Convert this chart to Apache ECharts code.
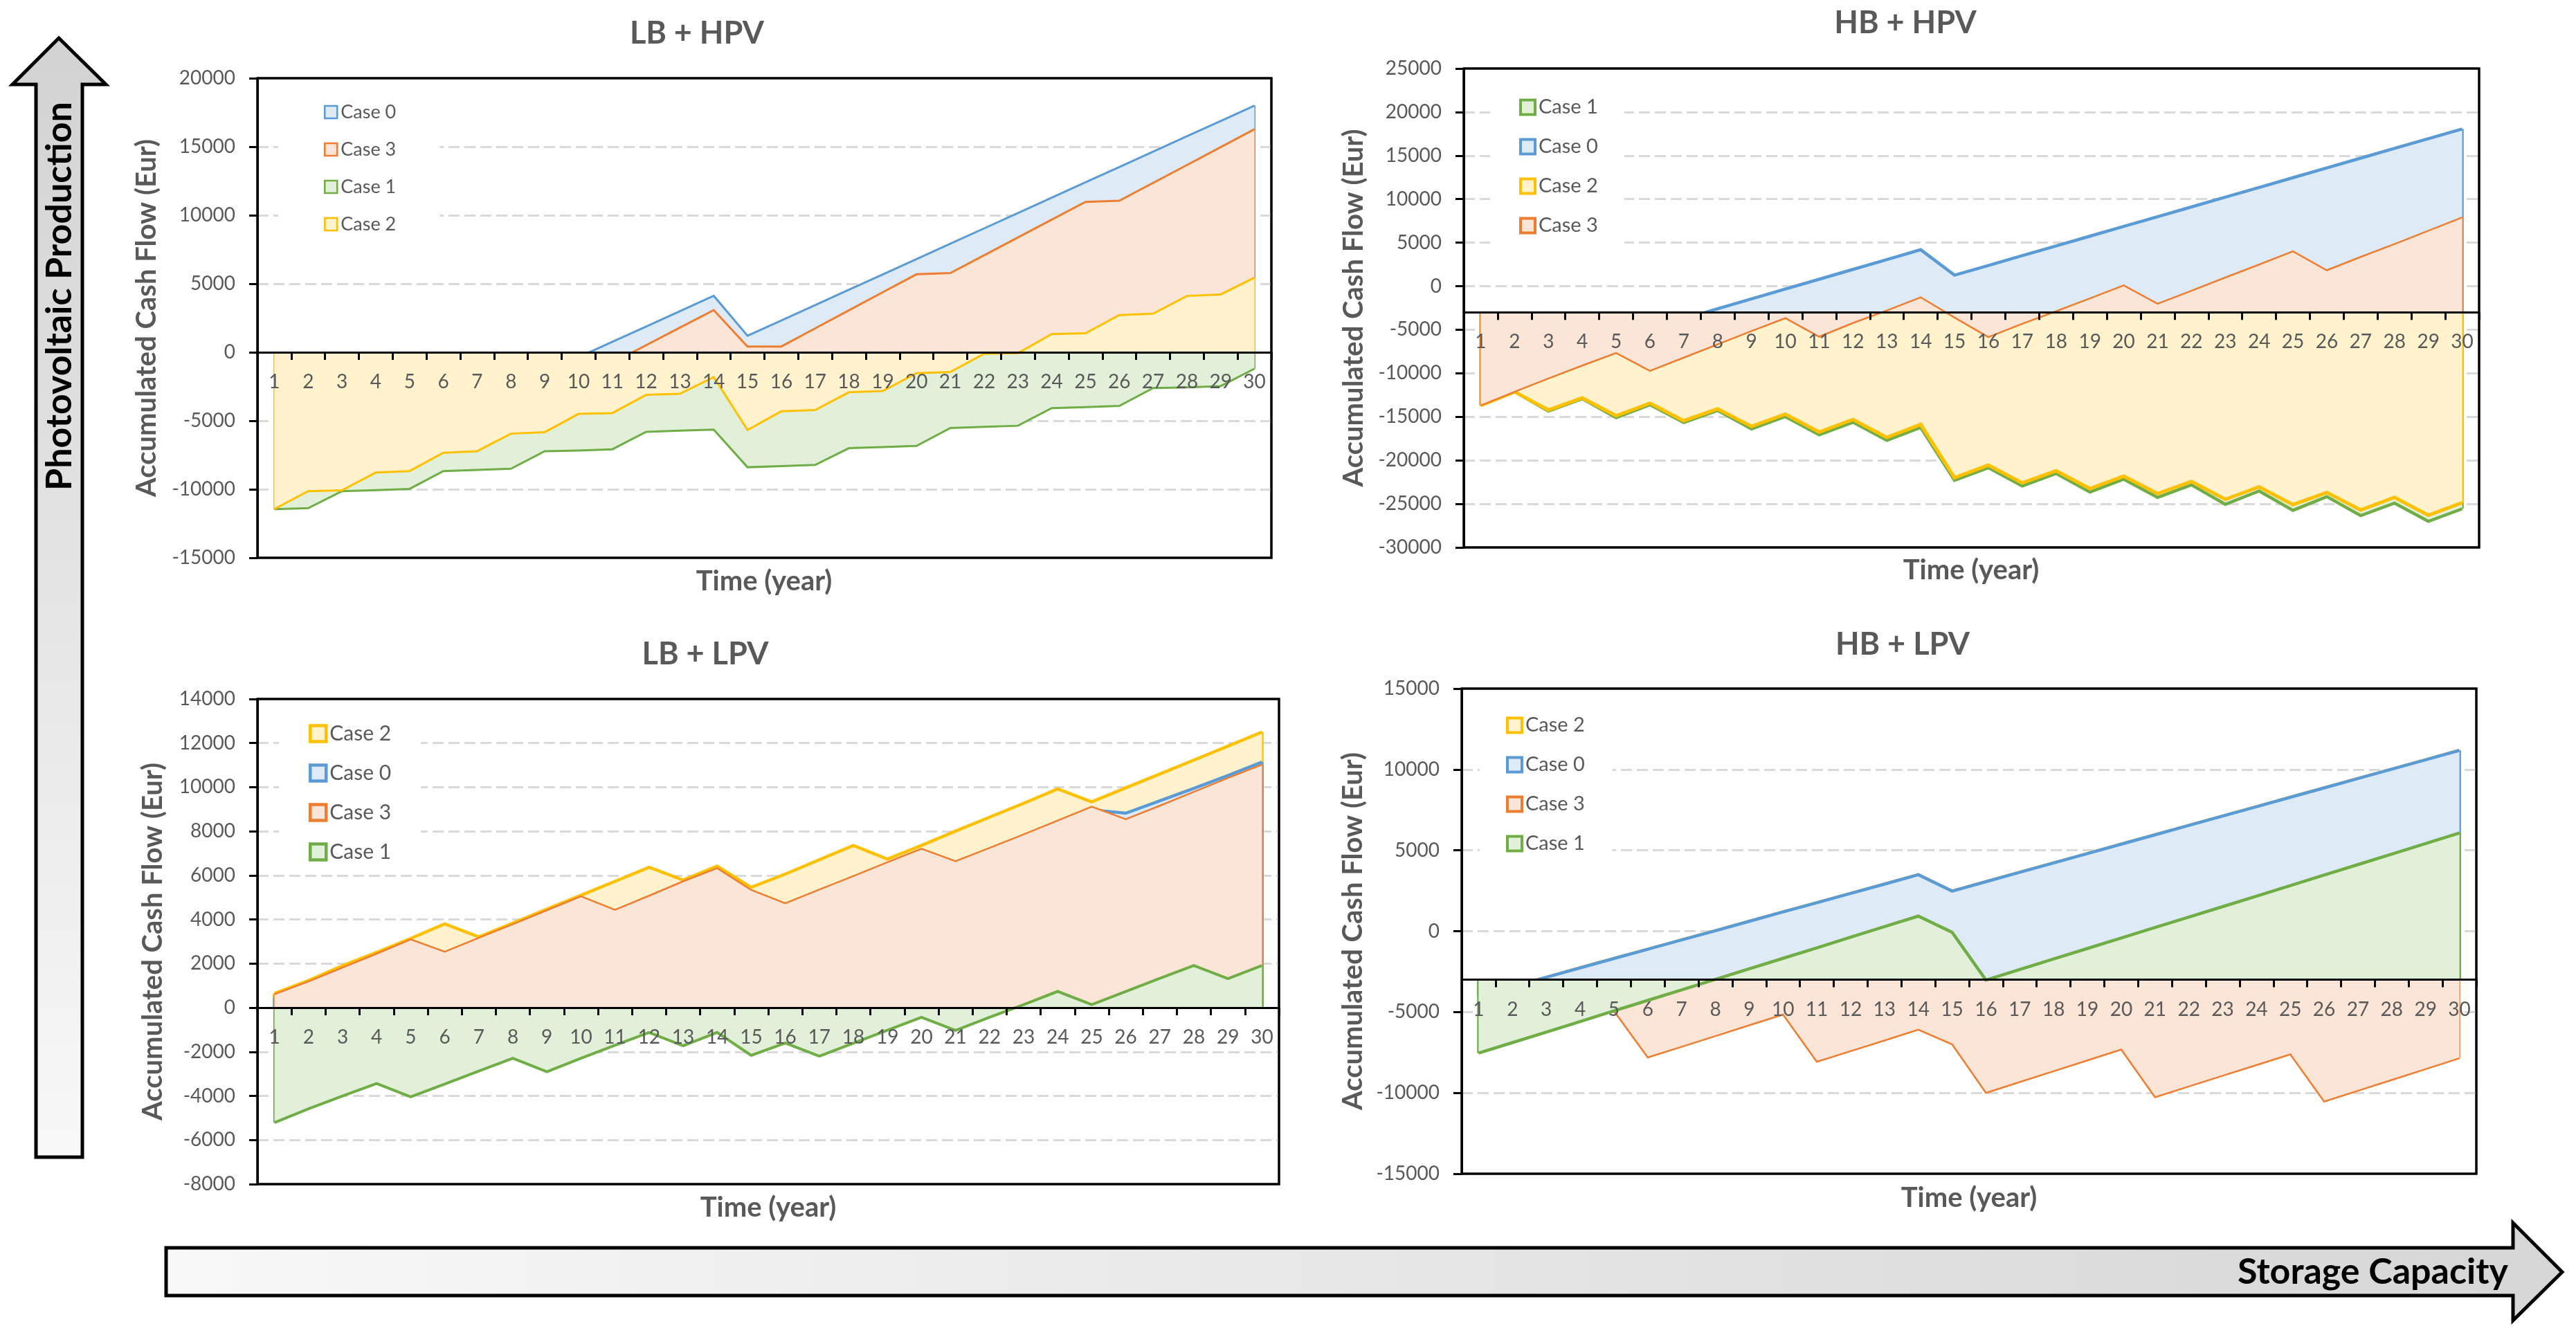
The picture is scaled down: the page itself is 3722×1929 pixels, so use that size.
<!DOCTYPE html>
<html>
<head>
<meta charset="utf-8">
<script src="https://cdn.jsdelivr.net/npm/echarts@6/dist/echarts.min.js"></script>
<style>
html,body{margin:0;padding:0;background:#fff;}
#c{width:3722px;height:1929px;}
</style>
</head>
<body>
<div id="c"></div>
<script>
// ---------- categories ----------
const years = ['1','2','3','4','5','6','7','8','9','10','11','12','13','14','15','16','17','18','19','20','21','22','23','24','25','26','27','28','29','30'];

// ---------- LB + HPV ----------
const lbHpvCase0 = [-10440,-9320,-8200,-7080,-5960,-4840,-3720,-2600,-1480,-360,760,1880,3000,4120,1200,2320,3440,4560,5680,6800,7920,9040,10160,11280,12400,13520,14640,15760,16880,18000];
const lbHpvCase3 = [-11180,-9880,-8580,-7280,-5980,-5980,-4680,-3380,-2080,-780,-780,520,1800,3080,420,420,1740,3060,4380,5690,5780,7080,8380,9680,10970,11060,12360,13660,14970,16280];
const lbHpvCase1 = [-11450,-11380,-10140,-10060,-9970,-8670,-8580,-8500,-7220,-7170,-7080,-5810,-5720,-5640,-8390,-8310,-8220,-7000,-6920,-6830,-5530,-5440,-5360,-4080,-4000,-3920,-2610,-2560,-2470,-1200];
const lbHpvCase2 = [-11440,-10140,-10080,-8780,-8670,-7330,-7220,-5940,-5830,-4500,-4440,-3110,-3030,-1810,-5670,-4310,-4220,-2920,-2830,-1530,-1440,-110,-60,1330,1390,2720,2810,4110,4220,5450];
const lbHpvTicks = [-15000, 20000, 5000];   // min, max, step

// ---------- HB + HPV ----------
const hbHpvCase1 = [-13700,-12130,-14350,-12920,-15100,-13610,-15660,-14270,-16400,-14970,-17060,-15620,-17710,-16230,-22300,-20850,-22950,-21500,-23650,-22170,-24260,-22820,-25050,-23520,-25740,-24170,-26350,-24910,-27000,-25570];
const hbHpvCase0 = [-10500,-9370,-8240,-7110,-5980,-4850,-3720,-2590,-1460,-330,800,1930,3060,4190,1265,2385,3505,4625,5745,6865,7985,9105,10225,11345,12465,13585,14705,15825,16945,18060];
const hbHpvCase2 = [-13700,-12130,-14220,-12830,-14880,-13440,-15450,-14090,-16100,-14700,-16750,-15310,-17370,-15880,-21990,-20550,-22600,-21200,-23250,-21820,-23820,-22430,-24480,-23040,-25090,-23690,-25700,-24260,-26310,-24870];
const hbHpvCase3 = [-13700,-12130,-10600,-9120,-7680,-9730,-8200,-6680,-5150,-3670,-5800,-4230,-2790,-1270,-3600,-5850,-4320,-2880,-1400,90,-2010,-520,1000,2490,4010,1830,3360,4840,6370,7900];
const hbHpvTicks = [-30000, 25000, 5000];

// ---------- LB + LPV ----------
const lbLpvCase2 = [650,1230,1910,2510,3140,3800,3210,3840,4470,5100,5730,6370,5790,6420,5460,6060,6710,7360,6740,7360,8010,8640,9270,9920,9340,9970,10600,11230,11860,12500];
const lbLpvCase0 = [460,1040,1670,2300,2950,2390,3020,3640,4270,4900,4290,4930,5580,6180,5190,4590,5210,5820,6450,7060,6490,7100,7710,8340,8970,8820,9380,9950,10530,11140];
const lbLpvCase3 = [610,1190,1820,2450,3100,2540,3170,3790,4420,5050,4440,5080,5730,6330,5340,4740,5360,5970,6600,7210,6640,7250,7860,8490,9120,8550,9160,9790,10420,11020];
const lbLpvCase1 = [-5210,-4580,-4000,-3440,-4040,-3460,-2870,-2290,-2900,-2290,-1700,-1120,-1730,-1120,-2160,-1600,-2200,-1610,-1020,-430,-1030,-430,140,740,140,740,1330,1910,1320,1910];
const lbLpvTicks = [-8000, 14000, 2000];

// ---------- HB + LPV ----------
const hbLpvCase2 = [-4000,-3420,-2850,-2270,-1690,-1120,-540,30,610,1190,1760,2340,2910,3490,2480,3060,3640,4220,4800,5380,5960,6540,7120,7700,8280,8860,9440,10020,10600,11180];
const hbLpvCase0 = [-4000,-3420,-2850,-2270,-1690,-1120,-540,30,610,1190,1760,2340,2910,3490,2480,3060,3640,4220,4800,5380,5960,6540,7120,7700,8280,8860,9440,10020,10600,11180];
const hbLpvCase3 = [-7540,-6890,-6240,-5590,-4930,-7810,-7150,-6490,-5820,-5160,-8080,-7420,-6760,-6090,-7000,-10000,-9330,-8660,-7990,-7320,-10270,-9600,-8940,-8280,-7620,-10540,-9870,-9200,-8530,-7860];
const hbLpvCase1 = [-7540,-6890,-6240,-5590,-4930,-4280,-3630,-2980,-2330,-1680,-1030,-370,280,930,-70,-3020,-2370,-1720,-1070,-420,230,870,1520,2170,2820,3470,4120,4770,5420,6070];
const hbLpvTicks = [-15000, 15000, 5000];

// ---------- styling ----------
const COLORS = {
  'Case 0': { line: '#5b9bd5', fill: '#deebf7' },
  'Case 1': { line: '#70ad47', fill: '#e2f0d9' },
  'Case 2': { line: '#ffc000', fill: '#fff2cc' },
  'Case 3': { line: '#ed7d31', fill: '#fbe5d6' }
};
const TXT = '#595959';
const FONT = 'Lato';

const panels = [
  { title: 'LB + HPV', ticks: lbHpvTicks, base: 0,
    series: [['Case 0', lbHpvCase0, 3], ['Case 3', lbHpvCase3, 3], ['Case 1', lbHpvCase1, 3], ['Case 2', lbHpvCase2, 3]],
    grid: { left: 372, top: 113, width: 1465, height: 693 }, nameGap: 140,
    titlePos: [1007, 48], timePos: [1104, 840],
    legend: { left: 402, top: 120, padding: [27, 63, 15, 66], icon: 18, bw: 2.5, fs: 27, gap: 24 } },
  { title: 'HB + HPV', ticks: hbHpvTicks, base: -3000,
    series: [['Case 1', hbHpvCase1, 4.5], ['Case 0', hbHpvCase0, 4.5], ['Case 2', hbHpvCase2, 5], ['Case 3', hbHpvCase3, 2.5]],
    grid: { left: 2115, top: 99, width: 1467, height: 692 }, nameGap: 139,
    titlePos: [2753, 33], timePos: [2848, 824],
    legend: { left: 2153, top: 125, padding: [15, 38, 20, 42], icon: 21, bw: 4, fs: 29, gap: 27 } },
  { title: 'LB + LPV', ticks: lbLpvTicks, base: 0,
    series: [['Case 2', lbLpvCase2, 4.5], ['Case 0', lbLpvCase0, 4.5], ['Case 3', lbLpvCase3, 2.5], ['Case 1', lbLpvCase1, 4]],
    grid: { left: 372, top: 1010, width: 1476, height: 701 }, nameGap: 131,
    titlePos: [1019, 945], timePos: [1110, 1745],
    legend: { left: 403, top: 1020, padding: [25, 43, 8, 43], icon: 23, bw: 4.5, fs: 30, gap: 27 } },
  { title: 'HB + LPV', ticks: hbLpvTicks, base: -3000,
    series: [['Case 2', hbLpvCase2, 4.5], ['Case 0', hbLpvCase0, 4.5], ['Case 3', hbLpvCase3, 2.5], ['Case 1', hbLpvCase1, 4.5]],
    grid: { left: 2112, top: 995, width: 1466, height: 701 }, nameGap: 137,
    titlePos: [2749, 931], timePos: [2845, 1731],
    legend: { left: 2138, top: 1013, padding: [20, 40, 12, 38], icon: 21, bw: 4, fs: 29, gap: 27 } }
];

const option = {
  animation: false,
  backgroundColor: '#fff',
  textStyle: { fontFamily: FONT },
  grid: [], xAxis: [], yAxis: [], series: [], legend: [], graphic: []
};

panels.forEach((p, i) => {
  const [ymin, ymax, step] = p.ticks;
  option.grid.push(Object.assign({ show: true, borderColor: '#000', borderWidth: 3, backgroundColor: 'transparent', containLabel: false }, p.grid));
  // the category axis crosses the value axis at the panel's baseline value
  const crossOffset = -(p.base - ymin) / (ymax - ymin) * p.grid.height;
  option.xAxis.push({
    type: 'category', gridIndex: i, data: years, boundaryGap: true, z: 10,
    position: 'bottom', offset: crossOffset,
    axisLine: { show: true, onZero: false, lineStyle: { color: '#000', width: 3 } },
    axisTick: { show: true, interval: 0, length: 11, lineStyle: { color: '#000', width: 3 } },
    axisLabel: { interval: 0, margin: 29, fontSize: 28, color: TXT, fontFamily: FONT },
    splitLine: { show: false }
  });
  option.yAxis.push({
    type: 'value', gridIndex: i, min: ymin, max: ymax, interval: step, position: 'left',
    axisLine: { show: true, onZero: false, lineStyle: { color: '#000', width: 3 } },
    axisTick: { show: true, length: 12, lineStyle: { color: '#000', width: 3 } },
    axisLabel: { margin: 32, fontSize: 28, color: TXT, fontFamily: FONT, formatter: v => String(v) },
    splitLine: { show: true, showMinLine: false, showMaxLine: false, lineStyle: { color: '#d9d9d9', width: 3, type: [16, 7] } },
    name: 'Accumulated Cash Flow (Eur)', nameLocation: 'middle', nameGap: p.nameGap,
    nameTextStyle: { fontSize: 40, fontWeight: 'bold', color: TXT, fontFamily: FONT }
  });
  p.series.forEach(([name, data, w], k) => {
    const c = COLORS[name];
    option.series.push({
      type: 'line', name: name, xAxisIndex: i, yAxisIndex: i, data: data,
      z: 2 + k,
      symbol: 'none', showSymbol: false, silent: true,
      lineStyle: { color: c.line, width: w, join: 'miter' },
      itemStyle: { color: c.line },
      areaStyle: { color: c.fill, opacity: 1, origin: p.base },
      markLine: {
        z: 2 + k,
        silent: true, symbol: ['none', 'none'], label: { show: false }, animation: false,
        lineStyle: { color: c.line, width: w, type: 'solid' },
        emphasis: { disabled: true },
        data: [
          [{ coord: [years[0], p.base] }, { coord: [years[0], data[0]] }],
          [{ coord: [years[years.length - 1], p.base] }, { coord: [years[years.length - 1], data[data.length - 1]] }]
        ]
      }
    });
  });
  const L = p.legend;
  option.legend.push({
    orient: 'vertical', left: L.left, top: L.top, padding: L.padding, z: 20,
    backgroundColor: '#fff', selectedMode: false, icon: 'rect',
    itemWidth: L.icon, itemHeight: L.icon, itemGap: L.gap,
    textStyle: { fontSize: L.fs, color: TXT, fontFamily: FONT, lineHeight: 30 },
    data: p.series.map(([name]) => ({ name: name, itemStyle: { color: COLORS[name].fill, borderColor: COLORS[name].line, borderWidth: L.bw } }))
  });
  option.graphic.push({
    type: 'text', x: p.titlePos[0], y: p.titlePos[1], silent: true,
    style: { text: p.title, fill: TXT, fontSize: 45, fontWeight: 'bold', fontFamily: FONT, align: 'center', verticalAlign: 'middle' }
  });
  option.graphic.push({
    type: 'text', x: p.timePos[0], y: p.timePos[1], silent: true,
    style: { text: 'Time (year)', fill: TXT, fontSize: 40, fontWeight: 'bold', fontFamily: FONT, align: 'center', verticalAlign: 'middle' }
  });
  // plot frame drawn on top so the border stays crisp black
  option.graphic.push({
    type: 'rect', silent: true, z: 30,
    shape: { x: p.grid.left, y: p.grid.top, width: p.grid.width, height: p.grid.height },
    style: { fill: null, stroke: '#000', lineWidth: 3 }
  });
});

// ---------- arrows ----------
option.graphic.push({
  type: 'polygon', silent: true,
  shape: { points: [[52, 1672], [52, 122], [18, 122], [85, 55], [153, 122], [119, 122], [119, 1672]] },
  style: { fill: new echarts.graphic.LinearGradient(0, 0, 0, 1, [{ offset: 0, color: '#d2d2d2' }, { offset: 1, color: '#f8f8f8' }]), stroke: '#000', lineWidth: 5 }
});
option.graphic.push({
  type: 'text', x: 86, y: 428, rotation: Math.PI / 2, silent: true,
  style: { text: 'Photovoltaic Production', fill: '#000', fontSize: 52, fontWeight: 'bold', fontFamily: FONT, align: 'center', verticalAlign: 'middle' }
});
option.graphic.push({
  type: 'polygon', silent: true,
  shape: { points: [[240, 1803], [3631, 1803], [3631, 1767], [3702, 1838], [3631, 1908], [3631, 1872], [240, 1872]] },
  style: { fill: new echarts.graphic.LinearGradient(0, 0, 1, 0, [{ offset: 0, color: '#f8f8f8' }, { offset: 1, color: '#d6d6d6' }]), stroke: '#000', lineWidth: 5 }
});
option.graphic.push({
  type: 'text', x: 3624, y: 1838, silent: true,
  style: { text: 'Storage Capacity', fill: '#000', fontSize: 52, fontWeight: 'bold', fontFamily: FONT, align: 'right', verticalAlign: 'middle' }
});

const chart = echarts.init(document.getElementById('c'), null, { renderer: 'canvas', width: 3722, height: 1929 });
chart.setOption(option);
</script>
</body>
</html>
